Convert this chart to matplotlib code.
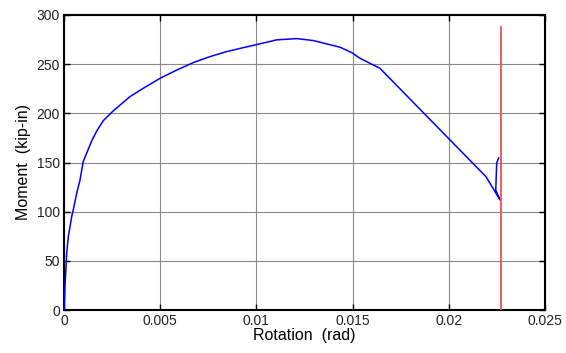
import matplotlib
matplotlib.use("Agg")
import matplotlib.pyplot as plt

plt.rcParams['font.family'] = ['Liberation Sans', 'DejaVu Sans']

# Moment-rotation response
rotation = [0.0, 0.00002, 0.00005, 0.000104, 0.00014, 0.000224, 0.0004, 0.00048,
            0.00066, 0.00083, 0.001, 0.00144, 0.0017, 0.00204, 0.00256, 0.00343,
            0.00412, 0.005, 0.00586, 0.00672, 0.00759, 0.00846, 0.00932, 0.0101,
            0.01105, 0.0121, 0.01296, 0.01435, 0.01495, 0.01538, 0.01642,
            0.02193, 0.02266, 0.02244, 0.02249, 0.02259]
moment = [0.0, 2.0, 23.7, 44.0, 58.0, 74.6, 95.0, 101.7,
          118.7, 132.0, 151.0, 172.0, 182.0, 192.5, 202.5, 217.0,
          225.5, 235.7, 244.0, 251.6, 257.7, 262.8, 266.8, 270.3,
          274.7, 276.0, 274.0, 267.2, 261.8, 256.0, 245.8,
          135.6, 112.0, 122.0, 149.5, 154.6]

# Vertical reference line (limit rotation)
limit_rotation = 0.0227
limit_moment = [0.0, 288.0]

x_ticks = [0, 0.005, 0.01, 0.015, 0.02, 0.025]
x_tick_labels = ['0', '0.005', '0.01', '0.015', '0.02', '0.025']
y_ticks = [0, 50, 100, 150, 200, 250, 300]

fig = plt.figure(figsize=(5.66, 3.53), dpi=100)
ax = fig.add_axes([64 / 566, 43 / 353, 481 / 566, 295 / 353])

ax.plot(rotation, moment, color='#0000ff', linewidth=1.1, zorder=3)
ax.plot([limit_rotation, limit_rotation], limit_moment, color='#f05050',
        linewidth=1.3, zorder=3)

ax.set_xlim(0, 0.025)
ax.set_ylim(0, 300)
ax.set_xticks(x_ticks)
ax.set_xticklabels(x_tick_labels)
ax.set_yticks(y_ticks)

ax.grid(True, color='#8a8a8a', linewidth=0.8, linestyle='-')
ax.set_axisbelow(True)
for s in ax.spines.values():
    s.set_linewidth(1.5)
    s.set_color('black')

ax.tick_params(direction='in', top=True, right=True, length=4, width=1,
               labelsize=10, colors='black')
ax.tick_params(axis='x', labelcolor='#222222', pad=3)
ax.tick_params(axis='y', labelcolor='#222222', pad=3)

ax.set_xlabel('Rotation  (rad)', fontsize=11.5, labelpad=0)
ax.set_ylabel('Moment  (kip-in)', fontsize=11.5, labelpad=4)

fig.savefig('out.png', dpi=100)
